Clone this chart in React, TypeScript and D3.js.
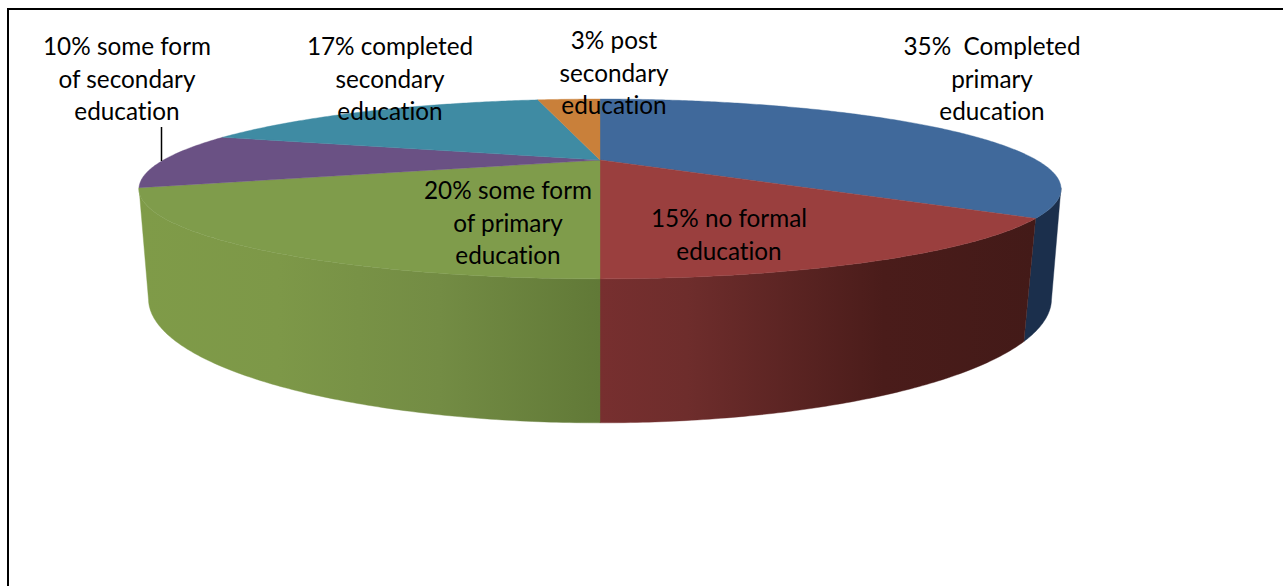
import React from "react";
import * as d3 from "d3";

// Share of respondents by highest level of education, clockwise from twelve o'clock.
const categories = [
  "Completed primary education",
  "no formal education",
  "some form of primary education",
  "some form of secondary education",
  "completed secondary education",
  "post secondary education",
];
const shares = [35, 15, 20, 10, 17, 3];

const labelLines = [
  ["35%  Completed", "primary", "education"],
  ["15% no formal", "education"],
  ["20% some form", "of primary", "education"],
  ["10% some form", "of secondary", "education"],
  ["17% completed", "secondary", "education"],
  ["3% post", "secondary", "education"],
];
const labelCentres = [
  [992, 55],
  [729, 227],
  [508, 199],
  [127, 55],
  [390, 55],
  [614, 49],
];

const topColours = ["#40699b", "#9a3f3e", "#7f9c4b", "#6a5184", "#3f8ba3", "#c9803a"];
const wallStops: (string[][] | null)[] = [
  [["0", "#1b2f4c"], ["1", "#1b2f4c"]],
  [["0", "#772f2f"], ["0.2", "#6e2d2c"], ["0.65", "#4a1c1a"], ["1", "#431a18"]],
  [["0", "#7f9b48"], ["0.3", "#7d9848"], ["0.65", "#738c44"], ["1", "#617937"]],
  null,
  null,
  null,
];
const wallExtents = [
  [1020, 1062],
  [600, 1036],
  [140, 600],
];

// A tilted disc: unit-circle coordinates pushed through a perspective division.
type Plane = { cx: number; cy: number; a: number; b: number; k: number };
const topPlane: Plane = { cx: 600, cy: 160, a: 436.5, b: 80.6, k: -0.322 };
const basePlane: Plane = { cx: 600, cy: 261, a: 430, b: 112.5, k: -0.305 };

const project = (p: Plane, angle: number): [number, number] => {
  const u = Math.sin(angle);
  const v = -Math.cos(angle);
  const w = 1 + p.k * v;
  return [p.cx + (p.a * u) / w, p.cy + (p.b * v) / w];
};

const samples = (start: number, end: number) => {
  const n = Math.max(2, Math.ceil((end - start) / 0.01));
  return d3.range(n + 1).map((i) => start + ((end - start) * i) / n);
};

const path = d3.line();
const wallFrom = (108 * Math.PI) / 180;
const wallTo = (252 * Math.PI) / 180;

export default function App() {
  const slices = d3
    .pie<number>()
    .sort(null)
    .value((d) => d)(shares);

  const faces = slices.map((s) => {
    const rim = samples(s.startAngle, s.endAngle).map((a) => project(topPlane, a));
    return path([[topPlane.cx, topPlane.cy], ...rim])! + "Z";
  });

  const walls = slices.map((s) => {
    const start = Math.max(s.startAngle, wallFrom);
    const end = Math.min(s.endAngle, wallTo);
    if (end <= start) return null;
    const angles = samples(start, end);
    const upper = angles.map((a) => project(topPlane, a));
    const lower = angles.map((a) => project(basePlane, a)).reverse();
    return path([...upper, ...lower])! + "Z";
  });

  return (
    <svg
      width={1283}
      height={586}
      viewBox="0 0 1283 586"
      style={{ position: "absolute", left: 0, top: 0, display: "block", background: "#fff" }}
    >
      <defs>
        {wallStops.map((stops, i) =>
          stops ? (
            <linearGradient
              key={i}
              id={`wall-${i}`}
              gradientUnits="userSpaceOnUse"
              x1={wallExtents[i][0]}
              x2={wallExtents[i][1]}
              y1={0}
              y2={0}
            >
              {stops.map(([offset, colour]) => (
                <stop key={offset} offset={offset} stopColor={colour} />
              ))}
            </linearGradient>
          ) : null
        )}
      </defs>

      <path d="M1283,9H8V586" fill="none" stroke="#000" strokeWidth={2} />

      {walls.map((d, i) =>
        d ? <path key={i} d={d} fill={`url(#wall-${i})`} stroke={`url(#wall-${i})`} strokeWidth={0.4} /> : null
      )}
      {faces.map((d, i) => (
        <path key={i} d={d} fill={topColours[i]} stroke={topColours[i]} strokeWidth={0.4}>
          <title>{categories[i]}</title>
        </path>
      ))}

      <line x1={161.5} x2={161.5} y1={127} y2={161} stroke="#000" strokeWidth={1.5} />

      <g
        fontFamily="Lato, Carlito, sans-serif"
        fontSize={24.3}
        fill="#000"
        textAnchor="middle"
        style={{ fontVariantLigatures: "none" }}
      >
        {labelLines.map((lines, i) => (
          <text key={i} xmlSpace="preserve">
            {lines.map((line, j) => (
              <tspan key={j} x={labelCentres[i][0]} y={labelCentres[i][1] + j * 32.5}>
                {line}
              </tspan>
            ))}
          </text>
        ))}
      </g>
    </svg>
  );
}
